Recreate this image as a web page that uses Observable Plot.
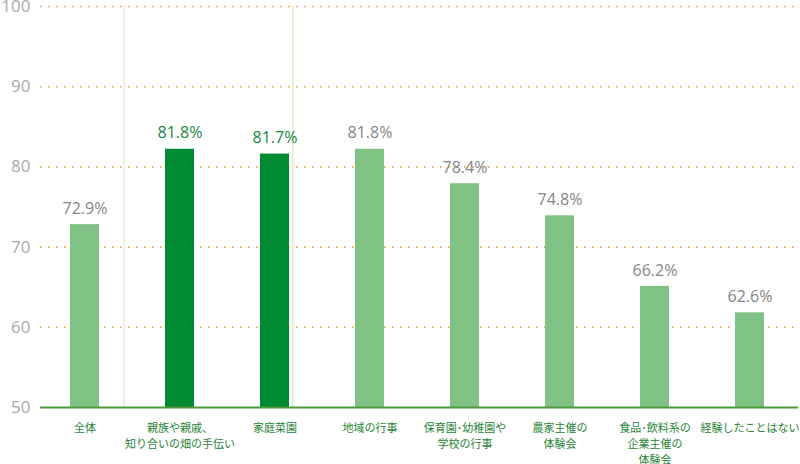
<!DOCTYPE html>
<html>
<head>
<meta charset="utf-8">
<script src="https://cdn.jsdelivr.net/npm/d3@7"></script>
<script src="https://cdn.jsdelivr.net/npm/@observablehq/plot@0.6"></script>
<style>
  html, body { margin: 0; padding: 0; background: #fff; }
  #chart svg { display: block; }
</style>
</head>
<body>
<div id="chart"></div>
<script>
const categories = [
  "全体",
  "親族や親戚、\n知り合いの畑の手伝い",
  "家庭菜園",
  "地域の行事",
  "保育園･幼稚園や\n学校の行事",
  "農家主催の\n体験会",
  "食品･飲料系の\n企業主催の\n体験会",
  "経験したことはない"
];
// bar heights as drawn in the reference
const values = [72.8, 82.2, 81.6, 82.2, 77.9, 73.9, 65.1, 61.8];
// printed value labels
const valueLabels = ["72.9%", "81.8%", "81.7%", "81.8%", "78.4%", "74.8%", "66.2%", "62.6%"];
const highlighted = [false, true, true, false, false, false, false, false];
const yTicks = [50, 60, 70, 80, 90, 100];
const gridTicks = [60, 70, 80, 90, 100];

const data = categories.map((c, i) => ({
  category: c,
  value: values[i],
  label: valueLabels[i],
  hi: highlighted[i]
}));

const FONT = "'Noto Sans CJK JP', 'Noto Sans', sans-serif";
const NUMFONT = "'Open Sans', 'Noto Sans', sans-serif";

const chart = Plot.plot({
  width: 800,
  height: 464,
  marginTop: 6,
  marginBottom: 57,
  marginLeft: 36,
  marginRight: 2,
  style: { fontFamily: FONT, background: "#fff" },
  x: { domain: categories, paddingInner: 0.7, paddingOuter: 0.35, label: null },
  y: { domain: [50, 100], ticks: yTicks, label: null },
  marks: [
    Plot.ruleY(gridTicks, { stroke: "#f0a23c", strokeWidth: 1.6, strokeDasharray: "1.6,6.4", insetLeft: 4 }),
    Plot.ruleX([categories[1]], { dx: -56, stroke: "#e2efd2", strokeWidth: 1.5 }),
    Plot.ruleX([categories[2]], { dx: 18, stroke: "#e6f2d4", strokeWidth: 2 }),
    Plot.barY(data, {
      x: "category", y1: 50, y2: "value",
      fill: d => d.hi ? "#008a34" : "#80c184"
    }),
    Plot.ruleY([50], { stroke: "#4d9a3c", strokeWidth: 2, insetLeft: 4 }),
    Plot.text(data, {
      x: "category", y: "value", text: "label", dy: -16,
      fill: d => d.hi ? "#17893a" : "#858585",
      fontSize: 16, fontFamily: NUMFONT
    }),
    Plot.axisY({
      ticks: yTicks, tickSize: 0, tickPadding: 6,
      fill: "#aaaaaa", fontSize: 17, fontFamily: NUMFONT
    }),
    Plot.axisX({
      tickSize: 0, tickPadding: 13, fontSize: 11, lineHeight: 1.45,
      fill: "#1f8436", label: null
    })
  ]
});

document.getElementById("chart").appendChild(chart);
</script>
</body>
</html>
